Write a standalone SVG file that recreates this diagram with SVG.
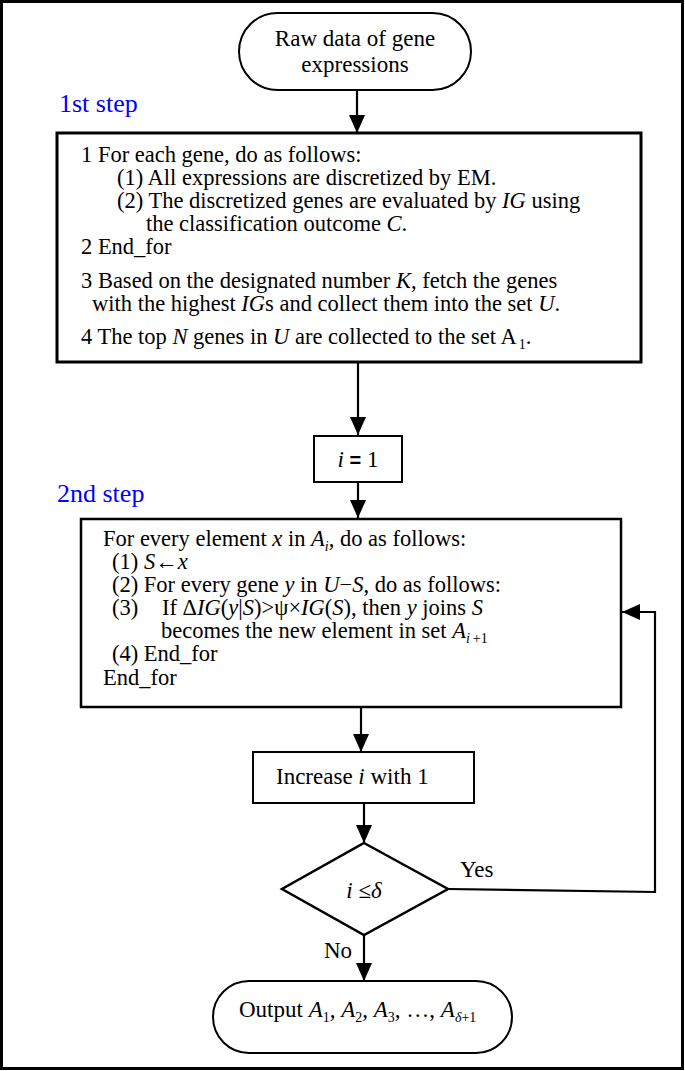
<svg xmlns="http://www.w3.org/2000/svg" width="685" height="1071" viewBox="0 0 685 1071">
<defs>
<marker id="ah" viewBox="0 0 18 16" refX="18" refY="8" markerWidth="18" markerHeight="16" markerUnits="userSpaceOnUse" orient="auto">
<path d="M0,0 L18,8 L0,16 z" fill="#000"/>
</marker>
<style>
.t{font-family:"Liberation Serif","Times New Roman",serif;font-size:23px;fill:#000}
.b{font-family:"Liberation Serif","Times New Roman",serif;font-size:22.5px;fill:#000}
.i{font-style:italic}
.s{font-size:14px}
.step{font-family:"Liberation Serif","Times New Roman",serif;font-size:26px;fill:#0000ff}
.box{fill:#fff;stroke:#000}
.con{fill:none;stroke:#000;stroke-width:2.2}
</style>
</defs>
<rect x="1.5" y="1.5" width="681" height="1067" fill="#fff" stroke="#000" stroke-width="3"/>
<text class="step" x="59" y="112">1st step</text>
<text class="step" x="57" y="502">2nd step</text>
<g id="connectors">
<line class="con" x1="357" y1="90" x2="357" y2="133" marker-end="url(#ah)"/>
<line class="con" x1="358" y1="362" x2="358" y2="435" marker-end="url(#ah)"/>
<line class="con" x1="358" y1="482" x2="358" y2="518" marker-end="url(#ah)"/>
<line class="con" x1="361" y1="707" x2="361" y2="752" marker-end="url(#ah)"/>
<line class="con" x1="364" y1="803" x2="364" y2="843" marker-end="url(#ah)"/>
<line class="con" x1="364" y1="935" x2="364" y2="981" marker-end="url(#ah)"/>
<path class="con" d="M448,889 L655,892 L655,612 L622,612" marker-end="url(#ah)"/>
<text class="t" x="460" y="877">Yes</text>
<text class="t" x="324" y="958">No</text>
</g>
<g id="start">
<rect class="box" x="239" y="13" width="232" height="77" rx="38.5" ry="38.5" stroke-width="2"/>
<text class="t" x="355" y="46" text-anchor="middle">Raw data of gene</text>
<text class="t" x="355" y="72" text-anchor="middle">expressions</text>
</g>
<g id="step1">
<rect class="box" x="57" y="133" width="584" height="229" stroke-width="3"/>
<text class="b" x="81" y="162">1 For each gene, do as follows:</text>
<text class="b" x="117" y="185">(1) All expressions are discretized by EM.</text>
<text class="b" x="117" y="208">(2) The discretized genes are evaluated by <tspan class="i">IG</tspan> using</text>
<text class="b" x="146" y="231">the classification outcome <tspan class="i">C</tspan>.</text>
<text class="b" x="81" y="254">2 End_for</text>
<text class="b" x="81" y="288">3 Based on the designated number <tspan class="i">K</tspan>, fetch the genes</text>
<text class="b" x="92" y="311">with the highest <tspan class="i">IG</tspan>s and collect them into the set <tspan class="i">U</tspan>.</text>
<text class="b" x="81" y="344">4 The top <tspan class="i">N</tspan> genes in <tspan class="i">U</tspan> are collected to the set A<tspan class="s" dy="5" dx="2">1</tspan><tspan dy="-5">.</tspan></text>
</g>
<g id="init">
<rect class="box" x="314" y="436" width="88" height="46" stroke-width="2"/>
<text class="t" x="358" y="467" text-anchor="middle"><tspan class="i">i</tspan> <tspan font-family="'Liberation Sans',Arial,sans-serif" font-weight="bold" font-size="20">=</tspan> 1</text>
</g>
<g id="step2">
<rect class="box" x="81" y="519" width="540" height="188" stroke-width="2.5"/>
<text class="b" x="103" y="546">For every element <tspan class="i">x</tspan> in <tspan class="i">A</tspan><tspan class="i s" dy="5">i</tspan><tspan dy="-5">, do as follows:</tspan></text>
<text class="b" x="112" y="569">(1) <tspan class="i">S</tspan>←<tspan class="i">x</tspan></text>
<text class="b" x="112" y="592">(2) For every gene <tspan class="i">y</tspan> in <tspan class="i">U</tspan>−<tspan class="i">S</tspan>, do as follows:</text>
<text class="b" x="112" y="615">(3)<tspan x="162">If Δ</tspan><tspan class="i">IG</tspan>(<tspan class="i">y</tspan>|<tspan class="i">S</tspan>)&gt;ψ×<tspan class="i">IG</tspan>(<tspan class="i">S</tspan>), then <tspan class="i">y</tspan> joins <tspan class="i">S</tspan></text>
<text class="b" x="161" y="638">becomes the new element in set <tspan class="i">A</tspan><tspan class="i s" dy="5">i</tspan><tspan class="s" dx="3">+1</tspan></text>
<text class="b" x="112" y="661">(4) End_for</text>
<text class="b" x="103" y="685">End_for</text>
</g>
<g id="increase">
<rect class="box" x="253" y="752" width="221" height="51" stroke-width="2"/>
<text class="t" x="276" y="784">Increase <tspan class="i">i</tspan> with 1</text>
</g>
<g id="decision">
<polygon class="box" points="364,843 448,889 364,935 282,889" stroke-width="2.5"/>
<text class="t" x="364" y="898" text-anchor="middle" font-size="26"><tspan class="i">i</tspan> ≤<tspan class="i">δ</tspan></text>
</g>
<g id="end">
<rect class="box" x="213" y="981" width="299" height="72" rx="36" ry="36" stroke-width="2"/>
<text class="t" x="239" y="1017">Output <tspan class="i">A</tspan><tspan class="s" dy="5">1</tspan><tspan dy="-5">, </tspan><tspan class="i">A</tspan><tspan class="s" dy="5">2</tspan><tspan dy="-5">, </tspan><tspan class="i">A</tspan><tspan class="s" dy="5">3</tspan><tspan dy="-5">, …, </tspan><tspan class="i">A</tspan><tspan class="s" dy="5"><tspan class="i">δ</tspan>+1</tspan></text>
</g>
</svg>
